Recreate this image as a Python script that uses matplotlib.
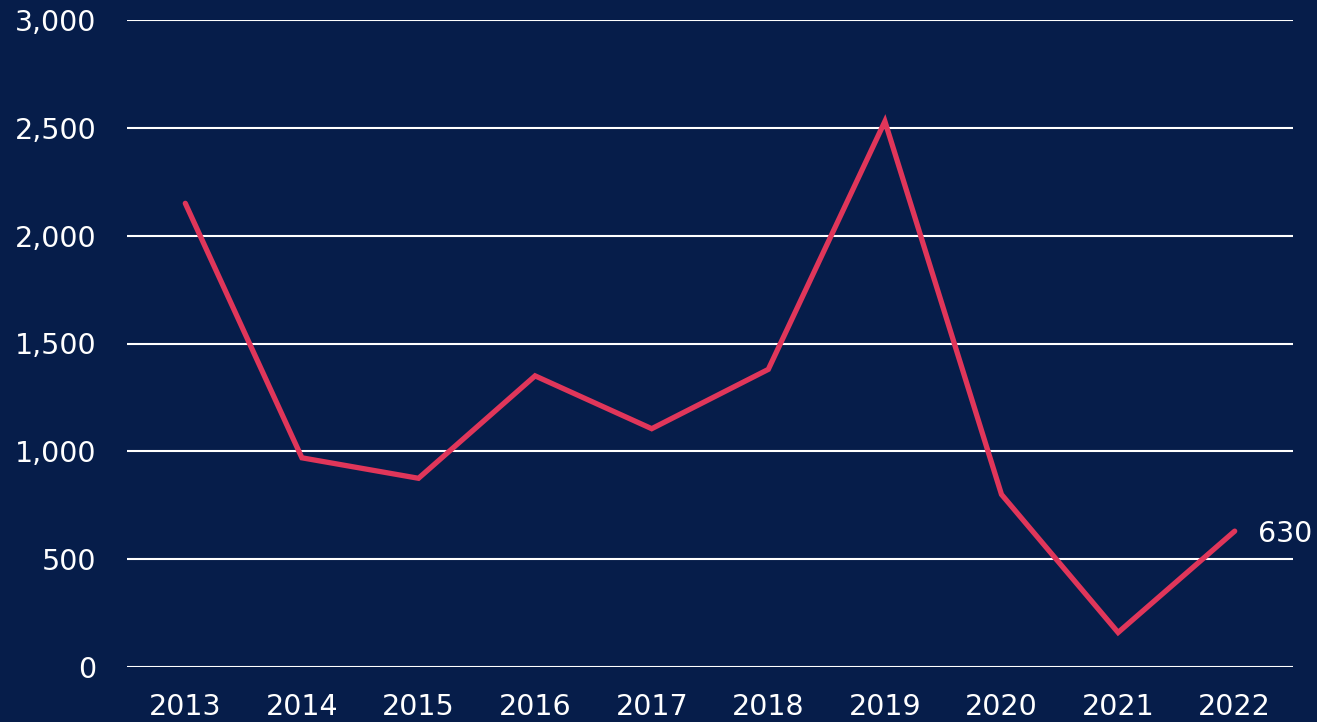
import matplotlib
matplotlib.use("Agg")
import matplotlib.pyplot as plt
from matplotlib.ticker import FuncFormatter

years = ["2013", "2014", "2015", "2016", "2017", "2018", "2019", "2020", "2021", "2022"]
values = [2150, 970, 875, 1350, 1105, 1380, 2530, 800, 160, 630]
yticks = [0, 500, 1000, 1500, 2000, 2500, 3000]

BG = "#061d4a"
RED = "#e0365a"

fig = plt.figure(figsize=(13.17, 7.22), dpi=100, facecolor=BG)
ax = fig.add_axes([127/1317, 1 - 667/722, (1293-127)/1317, (667-20)/722])
ax.set_facecolor(BG)

x = list(range(len(years)))
ax.plot(x, values, color=RED, lw=3.8, solid_capstyle="round", solid_joinstyle="miter", zorder=3)
ax.text(x[-1] + 0.2, values[-1], f"{values[-1]:,}", color="white", fontsize=20.5,
        va="center_baseline", ha="left", clip_on=False)

ax.set_xlim(-0.5, len(years) - 0.5)
ax.set_ylim(0, 3000)
ax.set_yticks(yticks)
ax.yaxis.set_major_formatter(FuncFormatter(lambda v, p: f"{int(v):,}"))
ax.set_xticks(x)
ax.set_xticklabels(years)
ax.grid(axis="y", color="white", lw=1.5, zorder=1)
ax.tick_params(axis="both", length=0, colors="white", labelsize=20.5)
ax.tick_params(axis="y", pad=22)
ax.tick_params(axis="x", pad=19)
for s in ax.spines.values():
    s.set_visible(False)

fig.savefig("out.png", dpi=100, facecolor=BG)
